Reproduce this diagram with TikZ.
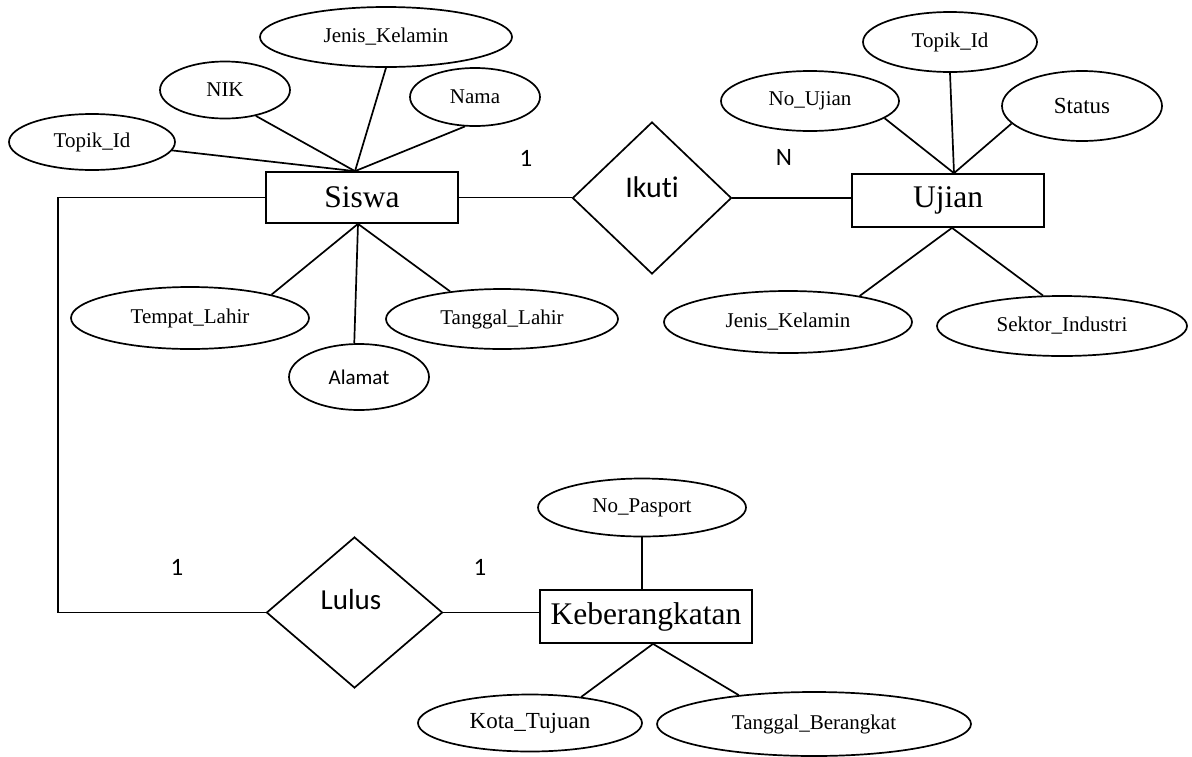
\documentclass[tikz,border=0pt]{standalone}
\usepackage{fontspec}
\setmainfont{Liberation Serif}
\newfontfamily\carl[Ligatures=NoCommon]{Carlito}
\usetikzlibrary{shapes.geometric,calc}
\begin{document}
\begin{tikzpicture}[x=1pt,y=-1pt, line width=1.7pt,
  attr/.style={draw, ellipse, inner sep=0pt, font=\fontsize{21}{25}\selectfont},
  ent/.style={draw, rectangle, inner sep=0pt, font=\fontsize{31.5}{36}\selectfont},
  rel/.style={draw, diamond, inner sep=0pt},
  card/.style={font=\carl\fontsize{25}{30}\selectfont},
  rellabel/.style={font=\carl\fontsize{30}{36}\selectfont}]
\path[use as bounding box] (0,0) rectangle (1192,756);

% Siswa
\node[ent, minimum width=192, minimum height=51] (siswa) at (362,197.5) {Siswa};
\node[attr, minimum width=252, minimum height=60] (jk1) at (386,37) {Jenis\_Kelamin};
\node[attr, minimum width=130, minimum height=57] (nik) at (225,90) {NIK};
\node[attr, minimum width=130, minimum height=58] (nama) at (475,97) {Nama};
\node[attr, minimum width=166, minimum height=56] (topik1) at (92,142) {Topik\_Id};
\node[attr, minimum width=238, minimum height=62] (tl) at (190,318) {Tempat\_Lahir};
\node[attr, font=\carl\fontsize{21}{25}\selectfont, minimum width=140, minimum height=66] (alamat) at (359,377) {Alamat};
\node[attr, minimum width=232, minimum height=60] (tgl) at (502,319) {Tanggal\_Lahir};

% Ikuti
\node[rel, minimum width=159, minimum height=152] (ikuti) at (652,198) {};
\node[rellabel] (ikutiL) at (652,187) {Ikuti};

% Ujian
\node[ent, minimum width=192, minimum height=53] (ujian) at (948,200.5) {Ujian};
\node[attr, minimum width=174, minimum height=60] (topik2) at (950,42) {Topik\_Id};
\node[attr, minimum width=178, minimum height=60] (noujian) at (810,101) {No\_Ujian};
\node[attr, font=\fontsize{23}{27}\selectfont, minimum width=160, minimum height=70] (status) at (1082,106) {Status};
\node[attr, minimum width=248, minimum height=62] (jk2) at (788,322) {Jenis\_Kelamin};
\node[attr, minimum width=250, minimum height=60] (sektor) at (1062,326) {Sektor\_Industri};

% Lulus
\node[rel, minimum width=176, minimum height=151] (lulus) at (354.5,612.5) {};
\node[rellabel, font=\carl\fontsize{29}{34}\selectfont] (lulusL) at (351,600) {Lulus};

% Keberangkatan
\node[ent, minimum width=212, minimum height=53] (keb) at (646,616.5) {Keberangkatan};
\node[attr, minimum width=208, minimum height=58] (np) at (642,507.5) {No\_Pasport};
\node[attr, font=\fontsize{23}{27}\selectfont, minimum width=224, minimum height=57] (kota) at (530,723) {Kota\_Tujuan};
\node[attr, minimum width=314, minimum height=64] (tb) at (814,724) {Tanggal\_Berangkat};

% cardinalities
\node[card] (c1) at (526,158) {1};
\node[card] (c2) at (784,157) {N};
\node[card] (c3) at (177,567) {1};
\node[card] (c4) at (480,567) {1};

% connectors Siswa
\coordinate (sT) at ($(siswa.north)+(-7,0)$);
\coordinate (sB) at ($(siswa.south)+(-4,0)$);
\draw (sT) -- (topik1.-6);
\draw (sT) -- (nik.-40);
\draw (sT) -- (jk1.south);
\draw (sT) -- (nama.251);
\draw (sB) -- (tl.16);
\draw (sB) -- (alamat.98);
\draw (sB) -- (tgl.152);

% Ujian
\coordinate (uT) at ($(ujian.north)+(6,0)$);
\coordinate (uB) at ($(ujian.south)+(4,0)$);
\draw (uT) -- (noujian.-13);
\draw (uT) -- (topik2.south);
\draw (uT) -- (status.194);
\draw (uB) -- (jk2.20);
\draw (uB) -- (sektor.122);

% relationships
\draw (siswa.east) -- (siswa.east -| ikuti.west);
\draw (ikuti.east) -- (ikuti.east -| ujian.west);
\draw (siswa.west) -- ++(-207,0) |- (lulus.west);
\draw (lulus.east) -- (lulus.east -| keb.west);

% Keberangkatan
\coordinate (kB) at ($(keb.south)+(7,0)$);
\draw (np.south) -- (np.south |- keb.north);
\draw (kB) -- (kota.27);
\draw (kB) -- (tb.159);
\end{tikzpicture}
\end{document}
